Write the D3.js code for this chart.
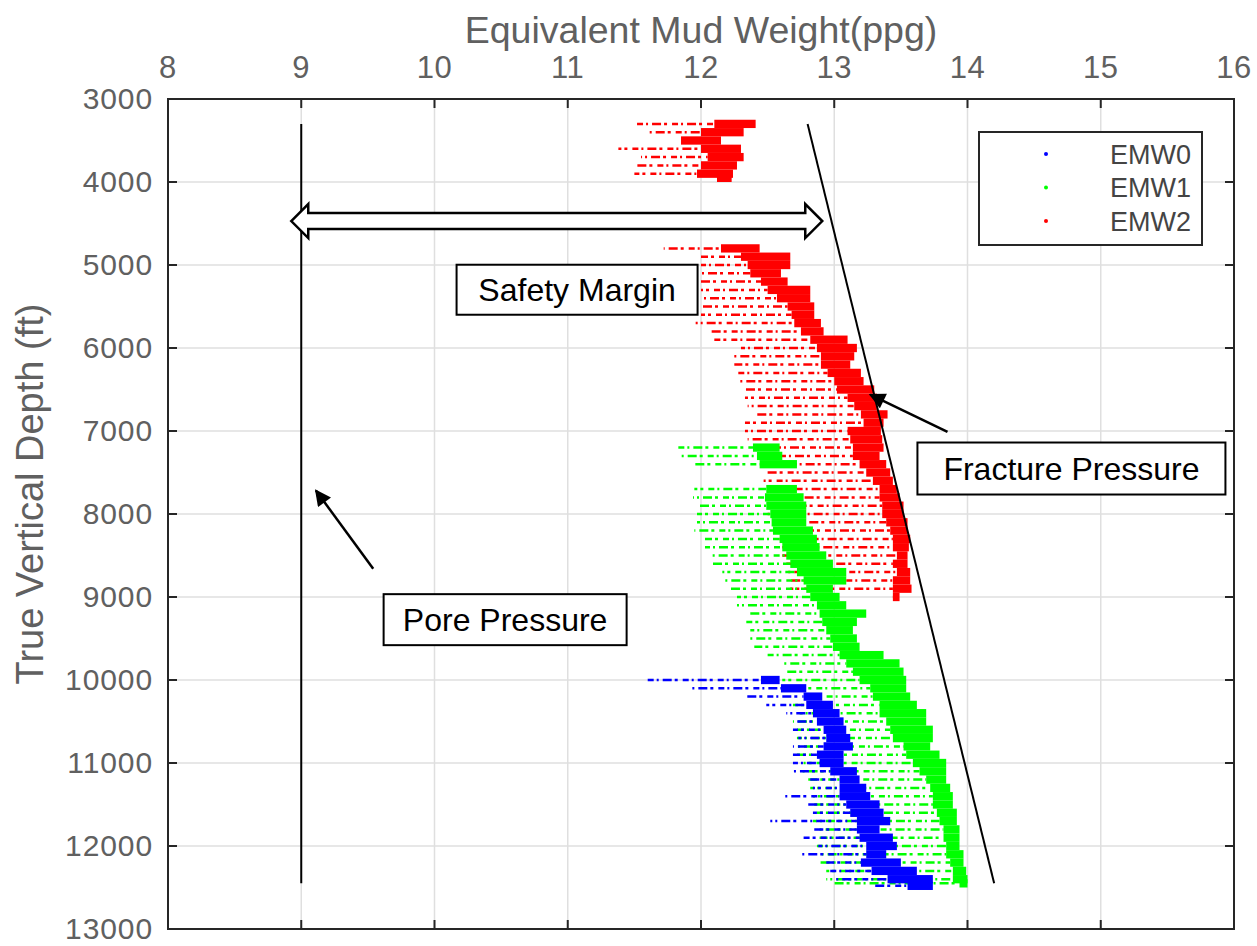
<!DOCTYPE html>
<html>
<head>
<meta charset="utf-8">
<script src="https://cdn.jsdelivr.net/npm/d3@7"></script>
<style>
  body { margin: 0; background: #fff; }
  text { font-family: "Liberation Sans", Arial, Helvetica, sans-serif; }
</style>
</head>
<body>
<svg id="chart"></svg>
<script>
// Axis ticks
const xTicks = [8, 9, 10, 11, 12, 13, 14, 15, 16];
const yTicks = [3000, 4000, 5000, 6000, 7000, 8000, 9000, 10000, 11000, 12000, 13000];

// Each row: [depth ft, leftmost sparse point, start of dense cloud, rightmost point] (ppg)
const emw2Rows = [
  [3300, 11.52, 12.1, 12.41], [3400, 11.6, 12.0, 12.32], [3500, 11.85, 11.85, 12.15],
  [3600, 11.38, 12.0, 12.3], [3700, 11.55, 12.05, 12.32], [3800, 11.5, 12.0, 12.27],
  [3900, 11.5, 11.97, 12.24], [3950, 12.12, 12.12, 12.23],
  [4800, 11.72, 12.15, 12.44], [4900, 12.0, 12.3, 12.67], [5000, 12.0, 12.35, 12.67],
  [5100, 12.0, 12.37, 12.6], [5200, 12.0, 12.45, 12.65], [5300, 12.0, 12.5, 12.82],
  [5400, 12.0, 12.57, 12.82], [5500, 12.0, 12.65, 12.85], [5600, 12.0, 12.68, 12.85],
  [5700, 11.96, 12.7, 12.9], [5800, 12.05, 12.75, 12.92], [5900, 12.1, 12.82, 13.1],
  [6000, 12.3, 12.87, 13.17], [6100, 12.25, 12.9, 13.15], [6200, 12.25, 12.9, 13.12],
  [6300, 12.28, 12.95, 13.2], [6400, 12.28, 13.0, 13.22], [6500, 12.33, 13.02, 13.3],
  [6600, 12.33, 13.1, 13.32], [6700, 12.35, 13.15, 13.32], [6800, 12.4, 13.2, 13.4],
  [6900, 12.33, 13.22, 13.37], [7000, 12.33, 13.1, 13.35], [7100, 12.35, 13.12, 13.36],
  [7200, 12.42, 13.14, 13.37], [7300, 12.6, 13.14, 13.34], [7400, 12.47, 13.19, 13.39],
  [7500, 12.5, 13.24, 13.42], [7600, 12.47, 13.29, 13.44], [7700, 12.5, 13.34, 13.47],
  [7800, 12.5, 13.34, 13.49], [7900, 12.5, 13.36, 13.52], [8000, 12.5, 13.36, 13.52],
  [8100, 12.52, 13.39, 13.55], [8200, 12.54, 13.42, 13.55], [8300, 12.59, 13.44, 13.57],
  [8400, 12.61, 13.44, 13.56], [8500, 12.61, 13.47, 13.55], [8600, 12.64, 13.44, 13.55],
  [8700, 12.64, 13.47, 13.57], [8800, 12.67, 13.44, 13.57], [8900, 12.67, 13.44, 13.58],
  [9000, 13.44, 13.44, 13.49]
];
const emw1Rows = [
  [7200, 11.83, 12.39, 12.59], [7300, 11.84, 12.42, 12.61], [7400, 11.95, 12.44, 12.72],
  [7700, 11.95, 12.49, 12.72], [7800, 11.94, 12.48, 12.77], [7900, 11.97, 12.49, 12.79],
  [8000, 11.97, 12.52, 12.79], [8100, 11.97, 12.53, 12.79], [8200, 11.95, 12.54, 12.84],
  [8300, 12.03, 12.59, 12.87], [8400, 12.03, 12.61, 12.89], [8500, 12.08, 12.64, 12.94],
  [8600, 12.09, 12.67, 12.99], [8700, 12.16, 12.72, 13.09], [8800, 12.16, 12.77, 13.09],
  [8900, 12.21, 12.79, 12.99], [9000, 12.27, 12.82, 13.04], [9100, 12.27, 12.87, 13.09],
  [9200, 12.34, 12.89, 13.24], [9300, 12.34, 12.91, 13.17], [9400, 12.37, 12.94, 13.14],
  [9500, 12.37, 12.97, 13.17], [9600, 12.4, 12.99, 13.19], [9700, 12.5, 13.04, 13.37],
  [9800, 12.61, 13.09, 13.49], [9900, 12.64, 13.14, 13.52], [10000, 12.61, 13.19, 13.54],
  [10100, 12.64, 13.27, 13.54], [10200, 12.77, 13.29, 13.57], [10300, 12.69, 13.34, 13.62],
  [10400, 12.74, 13.34, 13.69], [10500, 12.69, 13.39, 13.69], [10600, 12.72, 13.42, 13.74],
  [10700, 12.72, 13.44, 13.74], [10800, 12.72, 13.52, 13.72], [10900, 12.72, 13.54, 13.79],
  [11000, 12.77, 13.59, 13.84], [11100, 12.74, 13.64, 13.84], [11200, 12.79, 13.69, 13.84],
  [11300, 12.82, 13.72, 13.87], [11400, 12.84, 13.74, 13.89], [11500, 12.82, 13.74, 13.89],
  [11600, 12.87, 13.77, 13.92], [11700, 12.84, 13.79, 13.92], [11800, 12.89, 13.82, 13.94],
  [11900, 12.89, 13.82, 13.94], [12000, 12.87, 13.84, 13.94], [12100, 12.89, 13.84, 13.97],
  [12200, 12.89, 13.87, 13.97], [12300, 12.94, 13.89, 13.99], [12400, 12.94, 13.89, 14.0],
  [12450, 12.98, 13.94, 14.0]
];
const emw0Rows = [
  [10000, 11.6, 12.45, 12.59], [10100, 11.92, 12.6, 12.79], [10200, 12.34, 12.77, 12.91],
  [10300, 12.49, 12.79, 12.99], [10400, 12.64, 12.84, 13.04], [10500, 12.7, 12.87, 13.07],
  [10600, 12.69, 12.92, 13.09], [10700, 12.73, 12.94, 13.12], [10800, 12.69, 12.92, 13.14],
  [10900, 12.69, 12.87, 13.07], [11000, 12.69, 12.89, 13.07], [11100, 12.69, 12.97, 13.17],
  [11200, 12.82, 13.04, 13.19], [11300, 12.84, 13.04, 13.24], [11400, 12.61, 13.04, 13.27],
  [11500, 12.79, 13.09, 13.34], [11600, 12.84, 13.12, 13.37], [11700, 12.52, 13.17, 13.42],
  [11800, 12.82, 13.17, 13.34], [11900, 12.77, 13.19, 13.44], [12000, 12.88, 13.24, 13.47],
  [12100, 12.76, 13.24, 13.39], [12200, 12.94, 13.2, 13.5], [12300, 12.97, 13.28, 13.62],
  [12400, 13.0, 13.4, 13.74], [12480, 13.3, 13.55, 13.74]
];

// Pore / fracture pressure lines
const lineDepths = [3300, 12450];
const porePressure = [9, 9];
const fracturePressure = [12.8, 14.2];

const seriesNames = ["EMW0", "EMW1", "EMW2"];
const seriesColors = ["#0000ff", "#00ff00", "#ff0000"];

const width = 1257, height = 946;
const margin = { left: 168, right: 23, top: 99, bottom: 17 };

const svg = d3.select("#chart").attr("width", width).attr("height", height);

const x = d3.scaleLinear().domain([8, 16]).range([margin.left, width - margin.right]);
const y = d3.scaleLinear().domain([3000, 13000]).range([margin.top, height - margin.bottom]);

// Grid
const grid = svg.append("g").attr("stroke", "#dfdfdf").attr("stroke-width", 1.5);
grid.selectAll("line.gx")
  .data(xTicks)
  .join("line")
  .attr("x1", (d) => x(d)).attr("x2", (d) => x(d))
  .attr("y1", y(3000)).attr("y2", y(13000));
grid.selectAll("line.gy")
  .data(yTicks)
  .join("line")
  .attr("y1", (d) => y(d)).attr("y2", (d) => y(d))
  .attr("x1", x(8)).attr("x2", x(16));

// Scatter clouds: sparse dashes + dense band
const rowH = y(3100) - y(3000);
const drawOrder = [
  { rows: emw2Rows, color: seriesColors[2] },
  { rows: emw1Rows, color: seriesColors[1] },
  { rows: emw0Rows, color: seriesColors[0] }
];
drawOrder.forEach((s) => {
  const g = svg.append("g");
  g.selectAll("line")
    .data(s.rows)
    .join("line")
    .attr("x1", (d) => x(d[1]))
    .attr("x2", (d) => x(d[2]))
    .attr("y1", (d) => y(d[0]))
    .attr("y2", (d) => y(d[0]))
    .attr("stroke", s.color)
    .attr("stroke-width", 2.5)
    .attr("stroke-dasharray", "6,3,2,4,9,3,3,5")
    .attr("stroke-dashoffset", (d, i) => (i * 7) % 23);
  g.selectAll("rect")
    .data(s.rows)
    .join("rect")
    .attr("x", (d) => x(d[2]))
    .attr("width", (d) => x(d[3]) - x(d[2]))
    .attr("y", (d) => y(d[0]) - rowH / 2)
    .attr("height", rowH)
    .attr("fill", s.color);
});

// Pore pressure and fracture pressure lines
const line = d3.line().x((d) => x(d[0])).y((d) => y(d[1]));
svg.append("path")
  .attr("d", line(porePressure.map((v, i) => [v, lineDepths[i]])))
  .attr("stroke", "#000").attr("stroke-width", 2).attr("fill", "none");
svg.append("path")
  .attr("d", line(fracturePressure.map((v, i) => [v, lineDepths[i]])))
  .attr("stroke", "#000").attr("stroke-width", 2).attr("fill", "none");

// Axes box and inward ticks
const axisColor = "#262626";
svg.append("rect")
  .attr("x", x(8)).attr("y", y(3000))
  .attr("width", x(16) - x(8)).attr("height", y(13000) - y(3000))
  .attr("fill", "none").attr("stroke", axisColor).attr("stroke-width", 2);
const tickLen = 9;
const ticks = svg.append("g").attr("stroke", axisColor).attr("stroke-width", 2);
xTicks.forEach((t) => {
  ticks.append("line").attr("x1", x(t)).attr("x2", x(t)).attr("y1", y(3000)).attr("y2", y(3000) + tickLen);
  ticks.append("line").attr("x1", x(t)).attr("x2", x(t)).attr("y1", y(13000)).attr("y2", y(13000) - tickLen);
});
yTicks.forEach((t) => {
  ticks.append("line").attr("y1", y(t)).attr("y2", y(t)).attr("x1", x(8)).attr("x2", x(8) + tickLen);
  ticks.append("line").attr("y1", y(t)).attr("y2", y(t)).attr("x1", x(16)).attr("x2", x(16) - tickLen);
});

// Tick labels
const labelColor = "#606060";
svg.append("g")
  .selectAll("text")
  .data(xTicks)
  .join("text")
  .attr("x", (d) => x(d))
  .attr("y", 78)
  .attr("text-anchor", "middle")
  .attr("font-size", 31)
  .attr("letter-spacing", 0.6)
  .attr("fill", labelColor)
  .text((d) => d);
svg.append("g")
  .selectAll("text")
  .data(yTicks)
  .join("text")
  .attr("x", 153)
  .attr("y", (d) => y(d))
  .attr("dy", "0.34em")
  .attr("text-anchor", "end")
  .attr("font-size", 30)
  .attr("letter-spacing", 0.9)
  .attr("fill", labelColor)
  .text((d) => d);

// Axis titles
svg.append("text")
  .attr("x", (x(8) + x(16)) / 2)
  .attr("y", 43)
  .attr("text-anchor", "middle")
  .attr("font-size", 37.5)
  .attr("fill", labelColor)
  .text("Equivalent Mud Weight(ppg)");
svg.append("text")
  .attr("transform", `translate(43,${(y(3000) + y(13000)) / 2 - 20}) rotate(-90)`)
  .attr("text-anchor", "middle")
  .attr("font-size", 38)
  .attr("fill", labelColor)
  .text("True Vertical Depth (ft)");

// Legend
const legend = svg.append("g");
legend.append("rect")
  .attr("x", 979).attr("y", 132).attr("width", 223).attr("height", 113)
  .attr("fill", "#fff").attr("stroke", axisColor).attr("stroke-width", 2);
seriesNames.forEach((name, i) => {
  const ly = 154 + i * 33.5;
  legend.append("circle").attr("cx", 1046).attr("cy", ly).attr("r", 2).attr("fill", seriesColors[i]);
  legend.append("text")
    .attr("x", 1191).attr("y", ly).attr("dy", "0.36em")
    .attr("text-anchor", "end").attr("font-size", 27).attr("fill", "#444")
    .text(name);
});

// Annotations
svg.append("defs").append("marker")
  .attr("id", "head")
  .attr("viewBox", "0 0 10 10")
  .attr("refX", 9).attr("refY", 5)
  .attr("markerWidth", 7).attr("markerHeight", 6.5)
  .attr("markerUnits", "strokeWidth")
  .attr("orient", "auto")
  .append("path").attr("d", "M0,0 L10,5 L0,10 Z").attr("fill", "#000");

// Safety margin double arrow
const aL = x(8.925), aR = x(12.91), aY = y(4470);
const hl = 17, hh = 17, sh = 8;
svg.append("path")
  .attr("d", `M${aL},${aY} L${aL + hl},${aY - hh} L${aL + hl},${aY - sh} L${aR - hl},${aY - sh}
    L${aR - hl},${aY - hh} L${aR},${aY} L${aR - hl},${aY + hh} L${aR - hl},${aY + sh}
    L${aL + hl},${aY + sh} L${aL + hl},${aY + hh} Z`)
  .attr("fill", "#fff").attr("stroke", "#000").attr("stroke-width", 2.5);

// Pointer arrows
const pointers = [
  { from: [13.85, 7012], to: [13.27, 6562] },
  { from: [9.54, 8660], to: [9.11, 7717] }
];
pointers.forEach((p) => {
  svg.append("line")
    .attr("x1", x(p.from[0])).attr("y1", y(p.from[1]))
    .attr("x2", x(p.to[0])).attr("y2", y(p.to[1]))
    .attr("stroke", "#000").attr("stroke-width", 2.5)
    .attr("marker-end", "url(#head)");
});

// Text boxes
const boxes = [
  { label: "Safety Margin", cx: 11.07, cy: 5298, w: 241, h: 50 },
  { label: "Fracture Pressure", cx: 14.78, cy: 7452, w: 308, h: 52 },
  { label: "Pore Pressure", cx: 10.53, cy: 9273, w: 243, h: 51 }
];
boxes.forEach((b) => {
  const bx = x(b.cx), by = y(b.cy);
  svg.append("rect")
    .attr("x", bx - b.w / 2).attr("y", by - b.h / 2)
    .attr("width", b.w).attr("height", b.h)
    .attr("fill", "#fff").attr("stroke", "#000").attr("stroke-width", 2);
  svg.append("text")
    .attr("x", bx).attr("y", by).attr("dy", "0.36em")
    .attr("text-anchor", "middle").attr("font-size", 32).attr("fill", "#000")
    .text(b.label);
});
</script>
</body>
</html>
